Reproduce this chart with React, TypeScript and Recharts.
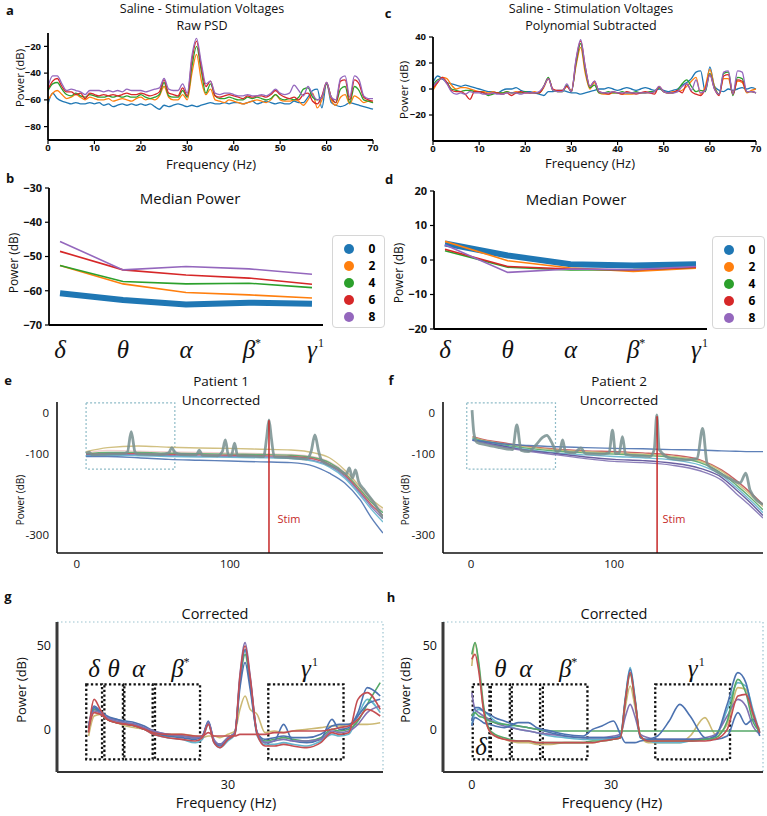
import React from 'react'
import { LineChart, Line, XAxis, YAxis, ReferenceArea, ReferenceLine } from 'recharts'

const SANS = '"Open Sans", "Noto Sans", sans-serif'
const SERIF = '"Liberation Serif", "DejaVu Serif", serif'

// ---------- a / c : saline, stimulation voltages ----------
const FREQ = Array.from({ length: 71 }, (_, i) => i)
const VOLTS = ['0', '2', '4', '6', '8']
const COLORS = ['#1f77b4', '#ff7f0e', '#2ca02c', '#d62728', '#9467bd']

const A_V0 = [
  -63, -55, -59, -61, -62, -63, -62, -63, -63, -62,
  -63, -62, -64, -63, -65, -64, -63, -64, -63, -64,
  -63, -64, -63, -65, -67, -64, -65, -64, -63, -64,
  -65, -64, -65, -64, -63, -62, -63, -63, -62, -63,
  -62, -62, -63, -62, -61, -63, -62, -61, -62, -63,
  -62, -63, -63, -61, -62, -62, -58, -53, -52, -66,
  -47, -62, -64, -65, -64, -62, -63, -64, -65, -66, -67]
const A_V2 = [
  -60, -55, -53, -56, -59, -58, -56, -58, -60, -58,
  -59, -60, -60, -59, -61, -60, -59, -60, -61, -59,
  -58, -60, -59, -60, -57, -50, -58, -60, -60, -56,
  -60, -40, -26, -45, -56, -52, -60, -61, -62, -60,
  -61, -62, -63, -62, -61, -60, -61, -62, -60, -56,
  -60, -61, -61, -60, -61, -64, -60, -55, -66, -60,
  -48, -60, -64, -58, -56, -63, -57, -59, -62, -61, -62]
const A_V4 = [
  -53, -48, -47, -52, -56, -57, -55, -57, -58, -56,
  -57, -58, -58, -57, -58, -57, -58, -57, -58, -58,
  -56, -58, -59, -58, -56, -47, -57, -58, -58, -53,
  -58, -35, -20, -38, -55, -48, -57, -59, -59, -58,
  -59, -60, -60, -58, -59, -58, -59, -60, -59, -56,
  -59, -60, -59, -60, -58, -52, -51, -58, -60, -58,
  -48, -58, -62, -52, -50, -62, -50, -53, -60, -61, -62]
const A_V6 = [
  -52, -46, -44, -50, -54, -54, -56, -55, -59, -55,
  -56, -57, -56, -57, -56, -57, -56, -55, -56, -56,
  -55, -56, -57, -56, -54, -45, -55, -56, -57, -51,
  -57, -30, -16, -35, -50, -46, -57, -58, -57, -56,
  -57, -58, -59, -57, -58, -57, -57, -58, -56, -53,
  -56, -58, -59, -58, -60, -56, -55, -61, -63, -57,
  -47, -58, -62, -46, -45, -60, -45, -48, -58, -60, -61]
const A_V8 = [
  -50, -42, -42, -48, -53, -52, -53, -54, -56, -53,
  -53, -53, -54, -53, -54, -53, -54, -52, -53, -53,
  -53, -54, -53, -52, -51, -44, -52, -53, -53, -48,
  -55, -27, -14, -32, -48, -46, -55, -56, -55, -55,
  -56, -57, -57, -56, -57, -57, -56, -57, -55, -52,
  -55, -56, -55, -49, -53, -57, -50, -56, -60, -58,
  -47, -58, -60, -44, -42, -58, -42, -45, -57, -59, -59]

const C_V0 = [
  5, 10, 8, 5, 4, 3, 2, 3, 2, 1,
  0, -1, -2, -2, -3, -1, 0, 0, 1, -1,
  -2, -2, -3, -4, -5, -2, -2, -1, -1, -2,
  -3, -3, -4, -3, -2, -1, 0, 0, 1, 0,
  -1, 0, 1, 0, -1, 0, 1, 0, -1, 0,
  -1, -2, -1, 0, 3, 5, 8, 13, 14, -2,
  17, 2, -1, -2, 0, -1, 0, 1, 0, 1, 0]
const C_V2 = [
  -1, 5, 9, 8, 3, 0, 1, 1, 0, -1,
  -2, -2, -3, -2, -3, -3, -2, -3, -2, -3,
  -3, -3, -2, -3, 1, 8, -1, -2, -2, 2,
  -1, 18, 32, 12, 0, 5, -3, -4, -4, -3,
  -3, -4, -4, -4, -3, -3, -3, -3, -2, 1,
  -2, -3, -2, -2, -1, 2, 6, 9, -4, 2,
  15, 2, -4, 8, 8, -4, 6, 5, -3, -1, 0]
const C_V4 = [
  3, 7, 8, 5, 0, -1, -2, -1, -1, -2,
  -2, -3, -5, -4, -3, -3, -2, -3, -3, -3,
  -2, -3, -3, -3, 2, 9, -1, -2, -2, 3,
  -2, 20, 35, 15, 1, 3, -3, -3, -2, -3,
  -3, -2, -3, -3, -2, -3, -3, -2, -2, 1,
  -2, -3, -3, -1, 4, 7, 2, -2, -1, -2,
  12, 1, -4, 12, 13, -5, 9, 8, -2, -2, -3]
const C_V6 = [
  1, 5, 9, 5, -1, -2, -2, -4, -8, -2,
  -2, -3, -4, -3, -3, -4, -3, -5, -3, -2,
  -3, -3, -3, -3, 2, 8, 0, -1, -1, 2,
  -2, 22, 37, 17, 2, 6, -2, -3, -4, -2,
  -3, -4, -2, -3, -4, -3, -2, -3, -4, 2,
  -2, -3, -3, -1, -3, 4, -2, -4, -5, 0,
  11, 0, -5, 10, 11, -4, 7, 6, -2, -2, -3]
const C_V8 = [
  2, 6, 8, 4, -2, -4, -3, -4, -2, -3,
  -3, -4, -4, -3, -4, -4, -3, -3, -3, -4,
  -3, -3, -3, -2, 2, 8, -1, -2, -2, 4,
  -2, 23, 38, 17, 2, 6, -2, -3, -3, -2,
  -3, -3, -3, -3, -3, -3, -3, -3, -2, 2,
  -2, -3, -3, -2, 2, 4, -1, 7, -3, -1,
  11, 0, -4, 13, 14, -4, 14, 13, -2, -2, -3]

const TICKS_70 = [0, 10, 20, 30, 40, 50, 60, 70]
const A_YTICKS = [-80, -60, -40, -20]
const C_YTICKS = [-20, 0, 20, 40]

// ---------- b / d : median power per band ----------
const BAND_POS = [0, 1, 2, 3, 4]
const BANDS = ['δ', 'θ', 'α', 'β', 'γ']
const BAND_SUP = ['', '', '', '*', '1']
const B_V0 = [-60.7, -62.7, -64, -63.5, -63.8]
const B_V2 = [-52.6, -58, -60.5, -61.2, -62.1]
const B_V4 = [-52.6, -57.3, -58, -57.8, -59.1]
const B_V6 = [-48.5, -53.9, -55.4, -56.3, -58.1]
const B_V8 = [-45.6, -53.9, -52.9, -53.6, -55.2]
const D_V0 = [4.8, 1.3, -1.2, -1.6, -1.2]
const D_V2 = [5.4, -0.2, -2.3, -3.3, -2.4]
const D_V4 = [2.7, -2.1, -2.9, -2.8, -2.1]
const D_V6 = [3.1, -1.9, -2.6, -2.9, -2.1]
const D_V8 = [4.4, -3.6, -2.6, -2.8, -1.9]
const B_YTICKS = [-70, -60, -50, -40, -30]
const D_YTICKS = [-20, -10, 0, 10, 20]

// ---------- e / f : patients, uncorrected ----------
const DEEP = { blue: '#4c72b0', green: '#55a868', red: '#c44e52', purple: '#8172b2', olive: '#ccb974', teal: '#64b5cd' }
const GRAY = '#778f8f'

const E_F = [6, 20, 40, 60, 80, 100, 120, 140, 155, 165, 175, 185, 192, 200]
const E_OLIVE = [-95, -85, -81, -84, -86, -87, -89, -91, -98, -110, -140, -181, -210, -234]
const E_PINK = [-98, -92, -94, -96, -97, -98, -100, -102, -108, -120, -145, -185, -215, -240]
const E_GREEN = [-100, -97, -97, -99, -100, -101, -102, -104, -110, -122, -148, -188, -218, -245]
const E_RED = [-102, -100, -100, -102, -103, -104, -105, -107, -113, -126, -152, -193, -224, -252]
const E_PURPLE = [-104, -102, -103, -105, -106, -107, -108, -110, -117, -130, -156, -197, -229, -260]
const E_TEAL = [-105, -104, -105, -107, -108, -109, -110, -112, -119, -133, -160, -202, -235, -268]
const E_BLUE = [-107, -107, -110, -114, -116, -118, -120, -122, -131, -148, -172, -213, -255, -295]
const E_GRAY_F = [6, 8, 10, 20, 30, 33, 35.5, 38, 40, 55, 60, 62, 64, 68, 78, 80, 82, 92, 95, 97, 99, 101, 103, 105, 115,
  122, 124, 125.5, 127, 129, 140, 150, 153, 155.5, 158, 160, 170, 176, 178, 180, 182, 184, 188, 194, 200]
const E_GRAY_V = [-100, -96, -103, -101, -100, -96, -46, -96, -101, -102, -98, -85, -97, -102, -103, -91, -104, -105, -95, -66,
  -104, -104, -74, -105, -106, -107, -60, -17, -60, -108, -110, -113, -95, -54, -95, -117, -136, -150, -135, -160, -140, -168,
  -190, -220, -258]

const F_F = [1, 10, 20, 40, 60, 80, 100, 120, 140, 160, 175, 185, 195, 204]
const F_RED = [-58, -66, -72, -82, -89, -93, -95, -98, -103, -115, -140, -165, -195, -225]
const F_OLIVE = [-60, -68, -74, -84, -91, -95, -98, -101, -106, -118, -143, -170, -200, -230]
const F_GREEN = [-62, -70, -77, -87, -94, -98, -101, -104, -109, -122, -148, -176, -207, -238]
const F_TEAL = [-64, -72, -79, -90, -98, -103, -107, -110, -115, -128, -153, -182, -214, -245]
const F_PURPLE2 = [-66, -73, -80, -92, -100, -108, -114, -117, -123, -136, -158, -188, -220, -252]
const F_PURPLE = [-67, -74, -82, -94, -103, -112, -119, -122, -128, -142, -165, -197, -228, -258]
const F_BLUE = [-67, -70, -75, -80, -83, -85, -87, -88, -90, -91, -93, -94, -95, -95]
const F_GRAY_F = [0.7, 2, 4, 10, 20, 29, 32, 35, 40, 45, 50, 53, 56, 60, 62, 64, 66, 72, 76.7, 80, 90, 96.5, 98.8, 101, 103.5,
  105.8, 108, 115, 125, 128, 129.8, 131.5, 140, 150, 158, 161.8, 165, 170, 180, 188, 192, 195, 204]
const F_GRAY_V = [7, -50, -72, -78, -85, -90, -29, -92, -95, -80, -60, -55, -70, -95, -92, -66, -95, -98, -86, -100, -101, -98,
  -42, -100, -98, -58, -102, -105, -107, -90, -5, -90, -112, -115, -112, -38, -125, -140, -160, -172, -148, -190, -225]

const E_STIM = 125.5
const F_STIM = 130
const E_ZOOM = [6, 64]
const F_ZOOM = [-3, 59]
const ZOOM_Y = [-138, 25]
const EF_YDOM = [-344, 27]
const EF_YTICKS = [-300, -100, 0]

// ---------- g / h : corrected ----------
const G_F = [0, 1.2, 2.5, 4, 6, 8, 10, 12, 14, 17, 20, 23, 24.5, 25.8, 27, 28.3, 30, 31.5, 32.6, 33.7, 34.8, 36.3, 38, 40,
  42, 44, 47, 50, 52.4, 54, 56, 58, 60, 62.8]
const G_BLUE = [1, 14, 11, 8, 6, 4, 3, 1, -2, -4, -5, -6, -4, 5, -7, -10, -6, -3, 30, 48, 30, -2, -8, -7, 3, -7, -8, -6, 6, 0, 1, 10, 25, 20]
const G_RED = [-2, 18, 12, 6, 4, 3, 2, 0, -3, -5, -6, -7, -5, 3, -8, -11, -6, -3, 32, 50, 31, -3, -10, -10, -9, -10, -11, -8, -2, -3, -2, 18, 22, 12]
const G_GREEN = [0, 12, 10, 6, 4, 3, 2, 0, -2, -4, -4, -5, -4, 4, -7, -9, -5, -2, 28, 45, 27, -2, -7, -6, -5, -6, -7, -5, 0, -1, 0, 5, 15, 28]
const G_PURPLE = [3, 11, 10, 7, 5, 4, 3, 1, -1, -3, -4, -5, -4, 4, -6, -9, -5, -2, 33, 52, 32, -2, -8, -7, -6, -7, -7, -6, -1, -2, -1, 3, 10, 14]
const G_OLIVE = [-4, 8, 9, 6, 4, 2, 1, 0, -2, -3, -3, -4, -5, -4, -4, -5, -3, -1, 12, 20, 12, 9, -2, -1, -2, -1, 0, 1, 2, 2, 3, 3, 3, 4]
const G_TEAL = [1, 12, 10, 6, 5, 3, 2, 0, -3, -5, -6, -8, -6, 3, -8, -11, -7, -3, 30, 47, 29, -4, -9, -9, -8, -9, -10, -7, -3, -4, -3, 8, 18, 10]
const G_FLAT = [0, 10, 9, 6, 4, 3, 2, 0, -2, -3, -3, -4, -4, -2, -4, -4, -4, -4, -3, -3, -3, -3, -3, -2, -2, -1, -1, -1, 0, 1, 2, 6, 12, 8]
const G_BLUE2 = [2, 13, 10, 7, 6, 5, 4, 2, -1, -3, -4, -5, -4, 4, -7, -9, -5, -2, 25, 40, 24, -2, -6, -5, -4, -5, -5, -3, 2, 3, 3, 8, 15, 18]

const H_F = [0, 0.7, 1.5, 2.5, 3.8, 5, 7, 10, 12.2, 14, 17, 20, 24, 26, 28, 30.5, 32, 33.1, 34.1, 35.1, 36.3, 38, 40, 42.5,
  44.8, 47, 50.2, 52.5, 55, 57.3, 59, 60.5, 62]
const H_GREEN = [45, 52, 40, 15, 0, -3, -5, -7, -7, -8, -8, -8, -8, -7, -7, -6, -5, 18, 33, 18, -4, -7, -7, -7, -7, -7, -6, -5, 5, 30, 22, 5, -1]
const H_OLIVE = [38, 52, 38, 12, -1, -4, -6, -8, -8, -9, -9, -8, -8, -8, -7, -6, -5, 14, 26, 14, -4, -8, -8, -8, -8, -4, 7, -3, 3, 25, 24, 8, 0]
const H_RED = [42, 45, 35, 12, -1, -4, -6, -7, -7, -8, -8, -8, -8, -8, -7, -6, -5, 18, 34, 18, -4, -7, -7, -7, -7, -7, -7, -6, 0, 20, 21, 10, -2]
const H_BLUE = [2, 7, 6, 4, 3, 2, 1, 4, 4, 1, -1, -3, -4, 0, 2, 5, -3, -8, -8, -8, -7, -6, -4, 5, 15, 8, -5, -6, -4, 10, 3, 6, -4]
const H_BLUE2 = [5, 13, 13, 11, 9, 7, 5, 2, 1, 0, -2, -4, -5, -5, -5, -5, -4, 19, 36, 19, -5, -6, -6, -6, -6, -6, -6, -4, 15, 34, 28, 10, -2]
const H_PURPLE = [22, 12, 10, 8, 6, 4, 2, 0, -1, -2, -3, -4, -5, -5, -5, -4, -3, 8, 15, 8, -3, -5, -6, -6, -6, -6, -5, -3, 8, 18, 14, 2, -3]
const H_TEAL = [3, 10, 12, 11, 8, 5, 3, 0, -1, -2, -4, -5, -6, -6, -6, -5, -4, 20, 37, 20, -5, -7, -8, -8, -8, -7, -6, -4, 12, 28, 26, 12, -2]
const H_FLAT = [8, 10, 8, 7, 5, 4, 3, 2, 1, 0, -1, -1, -1, -1, -1, -1, -1, -1, -1, -1, -1, -1, -1, -1, -1, -1, -1, -1, -1, -1, -1, -1, -1]

const G_BOXES = [[-0.5, 2.9], [3.4, 7.4], [7.7, 13.8], [14.3, 24], [38.7, 54.9]]
const H_BOXES = [[0.2, 3.8], [4.1, 8.2], [8.6, 14.7], [15.3, 24.9], [39.5, 55.6]]
const BOX_Y = [-18, 27]
const GH_YDOM = [-25.6, 64.4]
const G_XDOM = [-6.8, 63.4]
const H_XDOM = [-6.2, 62.7]

// ---------- helpers ----------
const table = (xs: number[], series: number[][]) =>
  xs.map((f, i) => {
    const r: any = { f }
    series.forEach((s, k) => (r['s' + k] = s[i]))
    return r
  })
const pts = (xs: number[], vs: number[]) => xs.map((f, i) => ({ f, v: vs[i] }))
const minus = (v: number) => String(v).replace('-', '\u2212')

const T = ({ x, y, s, w = 400, rot = false, c = '#111', children }: any) => (
  <div
    style={{
      position: 'absolute', left: x, top: y, fontSize: s, fontWeight: w, color: c, fontFamily: SANS,
      whiteSpace: 'nowrap', lineHeight: 1,
      transform: `translate(-50%, -50%)${rot ? ' rotate(-90deg)' : ''}`,
    }}
  >
    {children}
  </div>
)

const At = ({ x, y, children }: any) => <div style={{ position: 'absolute', left: x, top: y }}>{children}</div>

const AX = { stroke: '#000', strokeWidth: 1.8 }
const TL = { stroke: '#000', strokeWidth: 1.2 }
const BOLD = (s: number) => ({ fill: '#111', fontSize: s, fontWeight: 700, fontFamily: SANS })
const REG = (s: number) => ({ fill: '#111', fontSize: s, fontFamily: SANS })

const greekTick = (off: number) => (p: any) => {
  const i = p.payload.value
  return (
    <g>
      <text x={p.x} y={p.y + off} textAnchor="middle" fontFamily={SERIF} fontStyle="italic" fontSize={25} fill="#111">
        {BANDS[i]}
      </text>
      {BAND_SUP[i] ? (
        <text x={p.x + 6} y={p.y + off - 11} fontFamily={SERIF} fontSize={12} fill="#111">{BAND_SUP[i]}</text>
      ) : null}
    </g>
  )
}

const bandShape = (i: number, inside: boolean) => (p: any) => {
  const cx = p.x + p.width / 2
  const ty = inside ? p.y + p.height - 4 : p.y - 7
  return (
    <g>
      <rect x={p.x} y={p.y} width={p.width} height={p.height} fill="none" stroke="#111" strokeWidth={2.3} strokeDasharray="2.3 2.3" />
      <text x={cx} y={ty} textAnchor="middle" fontFamily={SERIF} fontStyle="italic" fontSize={25} fill="#111">{BANDS[i]}</text>
      {BAND_SUP[i] ? (
        <text x={cx + 6} y={ty - 11} fontFamily={SERIF} fontSize={12} fill="#111">{BAND_SUP[i]}</text>
      ) : null}
    </g>
  )
}

const VoltLegend = ({ x, y }: any) => (
  <div style={{ position: 'absolute', left: x, top: y, width: 51, height: 91, border: '1px solid #d6d6d6', borderRadius: 4, background: '#fff' }}>
    {VOLTS.map((v, k) => (
      <React.Fragment key={v}>
        <div style={{ position: 'absolute', left: 11, top: 12.5 + k * 17 - 5, width: 10, height: 10, borderRadius: 5, background: COLORS[k] }} />
        <div style={{ position: 'absolute', left: 39, top: 12.5 + k * 17, transform: 'translate(-50%, -50%)', fontWeight: 700, fontSize: 12, fontFamily: SANS, lineHeight: 1 }}>
          {v}
        </div>
      </React.Fragment>
    ))}
  </div>
)

const tableA = table(FREQ, [A_V0, A_V2, A_V4, A_V6, A_V8])
const tableC = table(FREQ, [C_V0, C_V2, C_V4, C_V6, C_V8])
const tableB = table(BAND_POS, [B_V0, B_V2, B_V4, B_V6, B_V8])
const tableD = table(BAND_POS, [D_V0, D_V2, D_V4, D_V6, D_V8])

const E_LINES = [
  { c: DEEP.olive, v: E_OLIVE }, { c: '#e8a0a0', v: E_PINK, o: 0.5 }, { c: DEEP.green, v: E_GREEN }, { c: DEEP.red, v: E_RED },
  { c: DEEP.purple, v: E_PURPLE }, { c: DEEP.teal, v: E_TEAL }, { c: DEEP.blue, v: E_BLUE },
]
const F_LINES = [
  { c: DEEP.red, v: F_RED }, { c: DEEP.olive, v: F_OLIVE }, { c: DEEP.green, v: F_GREEN }, { c: DEEP.teal, v: F_TEAL },
  { c: '#5b4e96', v: F_PURPLE2 }, { c: DEEP.purple, v: F_PURPLE }, { c: DEEP.blue, v: F_BLUE },
]
const G_LINES = [
  { c: DEEP.olive, v: G_OLIVE }, { c: DEEP.teal, v: G_TEAL }, { c: DEEP.green, v: G_GREEN }, { c: DEEP.blue, v: G_BLUE2 },
  { c: DEEP.blue, v: G_BLUE }, { c: DEEP.purple, v: G_PURPLE }, { c: DEEP.red, v: G_RED }, { c: DEEP.red, v: G_FLAT },
]
const H_LINES = [
  { c: DEEP.olive, v: H_OLIVE }, { c: DEEP.teal, v: H_TEAL }, { c: DEEP.purple, v: H_PURPLE }, { c: DEEP.blue, v: H_BLUE2 },
  { c: DEEP.green, v: H_FLAT }, { c: DEEP.blue, v: H_BLUE }, { c: DEEP.green, v: H_GREEN }, { c: DEEP.red, v: H_RED },
]

function PsdChart({ data, yDomain, yTicks, top, yw }: any) {
  const bottomY = yw === 48 ? 140 : 141
  return (
    <LineChart width={yw === 48 ? 384 : 383} height={170} data={data} margin={{ top, right: 11, bottom: 0, left: 0 }}>
      <XAxis dataKey="f" type="number" domain={[0, 70]} ticks={TICKS_70} axisLine={AX} tickLine={TL} tickSize={4} tickMargin={0}
        tick={BOLD(9.5)} height={170 - bottomY} interval={0} />
      <YAxis type="number" domain={yDomain} ticks={yTicks} width={yw} axisLine={AX} tickLine={TL} tickSize={4} tickMargin={3}
        tick={BOLD(9.5)} tickFormatter={minus} interval={0} allowDataOverflow />
      {VOLTS.map((v, k) => (
        <Line key={v} dataKey={'s' + k} type="monotone" stroke={COLORS[k]} strokeWidth={1.3} dot={false} isAnimationActive={false} />
      ))}
    </LineChart>
  )
}

function BandChart({ data, yDomain, yTicks, top, xh, yw, right, off }: any) {
  return (
    <LineChart width={yw === 49 ? 384 : 383} height={200} data={data} margin={{ top, right, bottom: 0, left: 0 }}>
      <XAxis dataKey="f" type="number" domain={[-0.175, 4.175]} ticks={BAND_POS} axisLine={AX} tickLine={false} tickSize={0}
        tickMargin={0} tick={greekTick(off)} height={xh} interval={0} />
      <YAxis type="number" domain={yDomain} ticks={yTicks} width={yw} axisLine={AX} tickLine={TL} tickSize={4} tickMargin={3}
        tick={BOLD(11)} tickFormatter={minus} interval={0} />
      {VOLTS.map((v, k) => (
        <Line key={v} dataKey={'s' + k} type="linear" stroke={COLORS[k]} strokeWidth={k === 0 ? 6 : 1.6} dot={false} isAnimationActive={false} />
      ))}
    </LineChart>
  )
}

function RawChart({ w, yw, right, xDomain, freqs, lines, grayF, grayV, zoom, stim, stimTop }: any) {
  return (
    <LineChart width={w} height={212} margin={{ top: 32, right, bottom: 0, left: 0 }}>
      <XAxis dataKey="f" type="number" domain={xDomain} ticks={[0, 100]} axisLine={{ stroke: '#111', strokeWidth: 1.6 }}
        tickLine={false} tickSize={0} tickMargin={7} tick={REG(11.5)} height={29} allowDataOverflow />
      <YAxis type="number" domain={EF_YDOM} ticks={EF_YTICKS} width={yw} axisLine={{ stroke: '#111', strokeWidth: 1.6 }}
        tickLine={false} tickSize={0} tickMargin={8} tick={REG(11.5)} interval={0} allowDataOverflow />
      <ReferenceArea x1={zoom[0]} x2={zoom[1]} y1={ZOOM_Y[0]} y2={ZOOM_Y[1]} fill="none" fillOpacity={0}
        stroke="#8fbcc8" strokeWidth={1.2} strokeDasharray="2 2" />
      {lines.map((l: any, k: number) => (
        <Line key={k} data={pts(freqs, l.v)} dataKey="v" type="monotone"
          stroke={l.c} strokeOpacity={l.o ?? 0.9} strokeWidth={1.4} dot={false} isAnimationActive={false} />
      ))}
      <Line data={pts(grayF, grayV)} dataKey="v" type="monotone" stroke={GRAY} strokeOpacity={0.85} strokeWidth={2.8}
        dot={false} isAnimationActive={false} />
      <ReferenceLine segment={[{ x: stim, y: EF_YDOM[0] }, { x: stim, y: stimTop }]} stroke="#c62828" strokeWidth={1.5} />
    </LineChart>
  )
}

function CorrChart({ w, yw, right, xDomain, xTicks, freqs, lines, boxes, deltaInside }: any) {
  return (
    <LineChart width={w} height={210} margin={{ top: 32, right, bottom: 0, left: 0 }}>
      <XAxis dataKey="f" type="number" domain={xDomain} ticks={xTicks} axisLine={{ stroke: '#333', strokeWidth: 2 }}
        tickLine={false} tickSize={0} tickMargin={8} tick={REG(12.5)} height={28} interval={0} allowDataOverflow />
      <YAxis type="number" domain={GH_YDOM} ticks={[0, 50]} width={yw} axisLine={{ stroke: '#3a3a3a', strokeWidth: 3 }}
        tickLine={false} tickSize={0} tickMargin={6} tick={REG(12.5)} interval={0} allowDataOverflow />
      <ReferenceArea x1={xDomain[0]} x2={xDomain[1]} y1={GH_YDOM[0]} y2={GH_YDOM[1]} fill="none" fillOpacity={0}
        stroke="#9cc4cf" strokeWidth={1.2} strokeDasharray="1.5 2.5" />
      {lines.map((l: any, k: number) => (
        <Line key={k} data={pts(freqs, l.v)} dataKey="v" type="monotone" stroke={l.c} strokeWidth={1.6} dot={false}
          isAnimationActive={false} />
      ))}
      {boxes.map((b: number[], i: number) => (
        <ReferenceArea key={i} x1={b[0]} x2={b[1]} y1={BOX_Y[0]} y2={BOX_Y[1]} shape={bandShape(i, deltaInside && i === 0)} />
      ))}
    </LineChart>
  )
}

export default function App() {
  return (
    <div style={{ position: 'absolute', left: 0, top: 0, width: 767, height: 816, background: '#fff', overflow: 'hidden' }}>
      <At x={0} y={0}><PsdChart data={tableA} yDomain={[-90, -10]} yTicks={A_YTICKS} top={33} yw={48} /></At>
      <At x={384} y={0}><PsdChart data={tableC} yDomain={[-40, 40]} yTicks={C_YTICKS} top={37} yw={49} /></At>

      <At x={0} y={170}><BandChart data={tableB} yDomain={[-70, -30]} yTicks={B_YTICKS} top={18} xh={45} yw={49} right={61} off={33} /></At>
      <At x={384} y={170}><BandChart data={tableD} yDomain={[-20, 20]} yTicks={D_YTICKS} top={21} xh={41} yw={50} right={60} off={29} /></At>

      <At x={0} y={370}>
        <RawChart w={384} yw={57} right={1} xDomain={[-13, 200]} freqs={E_F} lines={E_LINES} grayF={E_GRAY_F} grayV={E_GRAY_V}
          zoom={E_ZOOM} stim={E_STIM} stimTop={-18} />
      </At>
      <At x={384} y={370}>
        <RawChart w={383} yw={59} right={4} xDomain={[-19.6, 204]} freqs={F_F} lines={F_LINES} grayF={F_GRAY_F} grayV={F_GRAY_V}
          zoom={F_ZOOM} stim={F_STIM} stimTop={-8} />
      </At>

      <At x={0} y={590}>
        <CorrChart w={384} yw={57} right={1} xDomain={G_XDOM} xTicks={[30]} freqs={G_F} lines={G_LINES} boxes={G_BOXES} deltaInside={false} />
      </At>
      <At x={384} y={590}>
        <CorrChart w={383} yw={59} right={4} xDomain={H_XDOM} xTicks={[0, 30]} freqs={H_F} lines={H_LINES} boxes={H_BOXES} deltaInside />
      </At>

      <VoltLegend x={332} y={235} />
      <VoltLegend x={712} y={236} />

      <T x={10} y={10} s={13} w={700}>a</T>
      <T x={388} y={13} s={13} w={700}>c</T>
      <T x={10} y={178} s={13} w={700}>b</T>
      <T x={389} y={179} s={13} w={700}>d</T>
      <T x={8} y={380} s={13} w={700}>e</T>
      <T x={391} y={380} s={13} w={700}>f</T>
      <T x={8} y={596} s={13} w={700}>g</T>
      <T x={391} y={597} s={13} w={700}>h</T>

      <T x={202} y={8.5} s={12.5}>Saline - Stimulation Voltages</T>
      <T x={202} y={26} s={12.5}>Raw PSD</T>
      <T x={591} y={8.5} s={12.5}>Saline - Stimulation Voltages</T>
      <T x={591} y={26} s={12.5}>Polynomial Subtracted</T>
      <T x={20} y={78} s={11.5} rot>Power (dB)</T>
      <T x={404} y={90} s={11.5} rot>Power (dB)</T>
      <T x={211} y={163.5} s={13}>Frequency (Hz)</T>
      <T x={590} y={163} s={13}>Frequency (Hz)</T>

      <T x={190} y={198} s={15}>Median Power</T>
      <T x={576} y={199} s={15}>Median Power</T>
      <T x={14} y={263} s={12} rot>Power (dB)</T>
      <T x={399} y={273} s={12} rot>Power (dB)</T>

      <T x={221} y={382} s={13.5}>Patient 1</T>
      <T x={221} y={401} s={13.5}>Uncorrected</T>
      <T x={619} y={382} s={13.5}>Patient 2</T>
      <T x={619} y={401} s={13.5}>Uncorrected</T>
      <T x={20} y={500} s={10} rot>Power (dB)</T>
      <T x={405} y={500} s={10} rot>Power (dB)</T>
      <T x={289} y={518} s={11} c="#c62828">Stim</T>
      <T x={674} y={518} s={11} c="#c62828">Stim</T>

      <T x={215} y={614} s={14.5}>Corrected</T>
      <T x={614} y={614} s={14.5}>Corrected</T>
      <T x={21} y={690} s={13} rot>Power (dB)</T>
      <T x={405} y={690} s={13} rot>Power (dB)</T>
      <T x={226} y={803} s={14.5}>Frequency (Hz)</T>
      <T x={612} y={803} s={14.5}>Frequency (Hz)</T>
    </div>
  )
}
